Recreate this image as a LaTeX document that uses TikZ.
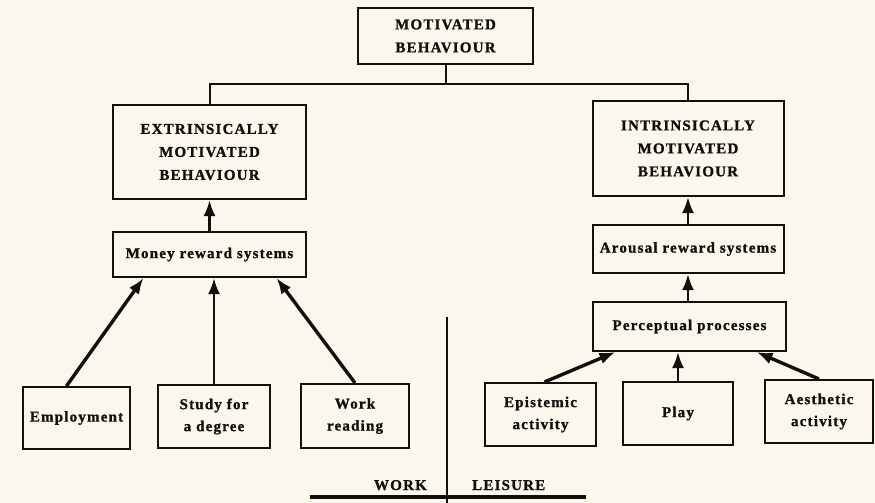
\documentclass[tikz,border=0pt]{standalone}
\usepackage{fontspec}
\usetikzlibrary{arrows.meta}
\newfontfamily\labfont[LetterSpace=8, BoldFeatures={FakeBold=1.2}]{Liberation Serif}
\definecolor{paper}{RGB}{250,248,236}
\definecolor{ink}{RGB}{18,16,14}
\tikzset{
  box/.style={draw=ink, line width=2pt, fill=paper, rectangle, align=center, inner sep=2pt, text=ink},
  capbox/.style={box, font=\labfont\bfseries\fontsize{15}{23}\selectfont},
  lowbox/.style={box, font=\labfont\bfseries\fontsize{15}{22}\selectfont},
  conn/.style={draw=ink, line width=2pt},
  arr/.style={draw=ink, line width=2.8pt, -{Latex[length=16pt,width=12pt]}},
  darr/.style={arr, line width=3.4pt},
  lbl/.style={text=ink, inner sep=0pt, font=\labfont\bfseries\fontsize{15}{23}\selectfont}
}
\begin{document}
\begin{tikzpicture}[x=1pt,y=-1pt]
\fill[paper] (0,0) rectangle (875,503);
\useasboundingbox (0,0) rectangle (875,503);

% top level
\node[capbox, minimum width=175pt, minimum height=56pt] (mb) at (445.5,36) {MOTIVATED\\BEHAVIOUR};
\node[capbox, minimum width=193pt, minimum height=94pt] (ext) at (209.5,152) {EXTRINSICALLY\\MOTIVATED\\BEHAVIOUR};
\node[capbox, minimum width=191pt, minimum height=95pt] (int) at (688,148.5) {INTRINSICALLY\\MOTIVATED\\BEHAVIOUR};

% reward systems
\node[lowbox, minimum width=193pt, minimum height=45pt] (money) at (209.5,254.5) {Money reward systems};
\node[lowbox, minimum width=191pt, minimum height=48pt] (arousal) at (688,249) {Arousal reward systems};
\node[lowbox, minimum width=193pt, minimum height=49pt] (perc) at (689.5,326.5) {Perceptual processes};

% bottom activities
\node[lowbox, minimum width=107pt, minimum height=62pt] (emp) at (76.5,418) {Employment};
\node[lowbox, minimum width=112pt, minimum height=63pt] (study) at (214,416.5) {Study for\\a degree};
\node[lowbox, minimum width=108pt, minimum height=64pt] (wread) at (355,416) {Work\\reading};
\node[lowbox, minimum width=111pt, minimum height=63pt] (epi) at (540.5,414.5) {Epistemic\\activity};
\node[lowbox, minimum width=110pt, minimum height=63pt] (play) at (678,413.5) {Play};
\node[lowbox, minimum width=108pt, minimum height=63pt] (aes) at (819,411.5) {Aesthetic\\activity};

% tree from top
\coordinate (bar) at (445.5,84);
\draw[conn] (mb.south) -- (bar);
\draw[conn] (ext.north) -- (ext.north |- bar) -- (int.north |- bar) -- (int.north);

% arrows, left side
\draw[arr] (money.north) -- (ext.south);
\draw[darr] ([xshift=-10pt]emp.north) -- ([xshift=-66pt]money.south);
\draw[arr] (study.north) -- (study.north |- money.south);
\draw[darr] (wread.north) -- ([xshift=67pt]money.south);

% arrows, right side
\draw[arr] (arousal.north) -- (int.south);
\draw[arr] (perc.north -| arousal.south) -- (arousal.south);
\draw[darr] ([xshift=4pt]epi.north) -- ([xshift=-74pt]perc.south);
\draw[arr] (play.north) -- (play.north |- perc.south);
\draw[darr] (aes.north) -- ([xshift=67pt]perc.south);

% work / leisure divider
\coordinate (divtop) at (447,317);
\coordinate (divbot) at (447,503);
\draw[draw=ink, line width=2.8pt] (divtop) -- (divbot);
\coordinate (baseL) at (310,497);
\coordinate (baseR) at (586,497);
\draw[draw=ink, line width=4.5pt] (baseL) -- (baseR);
\node[lbl, anchor=base east] (work) at (427,490) {WORK};
\node[lbl, anchor=base west] (leisure) at (472,490) {LEISURE};
\end{tikzpicture}
\end{document}
